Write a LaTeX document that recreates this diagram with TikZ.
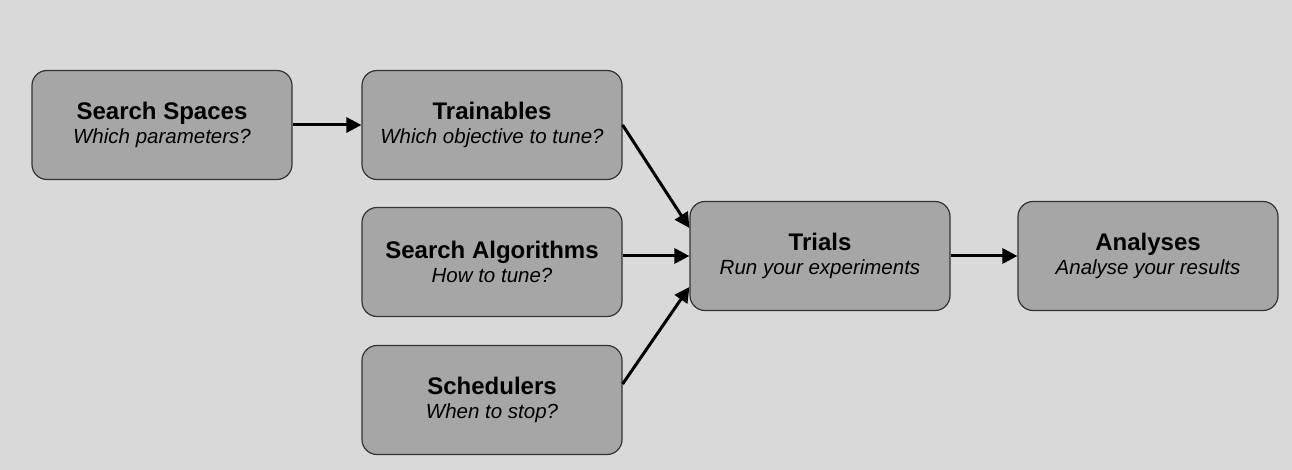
\documentclass[tikz,border=0pt]{standalone}
\usepackage{fontspec}
\setmainfont{Liberation Sans}
\usetikzlibrary{arrows.meta}
\newcommand{\boxtitle}[2]{{\fontsize{24}{24}\selectfont\bfseries #1}\\{\itshape #2}}
\tikzset{
    stage/.style={draw=black!80,line width=1.2pt,fill=black!35,rounded corners=15pt,
        minimum width=260pt,minimum height=109pt,inner sep=0pt,align=center,
        font=\fontsize{20.5}{24}\selectfont},
    flow/.style={-{Triangle[length=15pt,width=15pt]},line width=3pt}
}
\begin{document}
\begin{tikzpicture}[x=1pt,y=-1pt]
    \fill[black!15](0,0)rectangle(1292,470);
    \useasboundingbox(0,0)rectangle(1292,470);
    \node[stage](spaces)at(162,125){\boxtitle{Search Spaces}{Which parameters?}};
    \node[stage](trainables)at(492,125){\boxtitle{Trainables}{Which objective to tune?}};
    \node[stage](algos)at(492,262){\boxtitle{Search Algorithms}{How to tune?}};
    \node[stage](sched)at(492,400){\boxtitle{Schedulers}{When to stop?}};
    \node[stage](trials)at(820,256){\boxtitle{Trials}{Run your experiments}};
    \node[stage](analyses)at(1148,256){\boxtitle{Analyses}{Analyse your results}};
    \draw[flow](spaces)--(trainables);
    \draw[flow](trainables.east)--([yshift=28pt]trials.west);
    \draw[flow]([yshift=6pt]algos.east)--(trials.west);
    \draw[flow]([yshift=16pt]sched.east)--([yshift=-31pt]trials.west);
    \draw[flow](trials)--(analyses);
\end{tikzpicture}
\end{document}
